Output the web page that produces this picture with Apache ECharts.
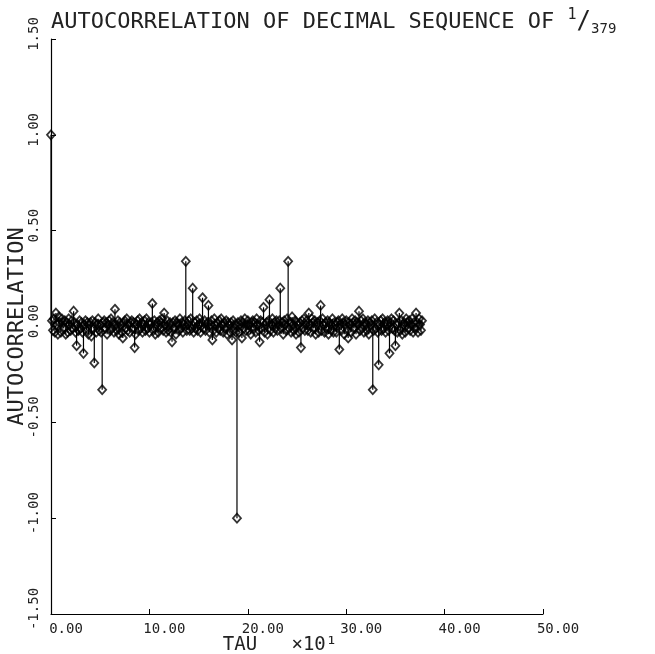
<!DOCTYPE html>
<html>
<head>
<meta charset="utf-8">
<title>Autocorrelation of decimal sequence of 1/379</title>
<script src="https://cdn.jsdelivr.net/npm/echarts@6/dist/echarts.min.js"></script>
<style>
  html, body { margin: 0; padding: 0; background: #fff; }
  #chart { width: 655px; height: 654px; }
</style>
</head>
<body>
<div id="chart"></div>
<script>
// autocorrelation at lag tau = 0, 1, 2 ... 377
const autocorr = [
  1.00, 0.03, -0.02, 0.04, -0.03, 0.07, 0.01, -0.04, 0.05, 0.02,
  -0.03, 0.04, 0.02, -0.01, 0.03, -0.04, 0.02, -0.03, 0.04, 0.01,
  -0.02, 0.03, -0.01, 0.08, 0.02, -0.03, -0.10, 0.01, -0.02, 0.03,
  -0.01, 0.02, -0.03, -0.14, 0.01, 0.03, -0.02, 0.02, -0.04, 0.01,
  0.02, -0.05, 0.03, -0.01, -0.19, 0.02, -0.03, 0.01, 0.04, -0.02,
  0.01, -0.03, -0.33, 0.02, 0.03, -0.01, 0.02, -0.04, 0.01, 0.03,
  -0.02, 0.04, -0.01, 0.02, -0.03, 0.09, 0.01, -0.02, 0.03, -0.04,
  0.02, 0.01, -0.03, -0.06, 0.02, 0.03, -0.01, 0.04, -0.02, 0.01,
  -0.03, 0.02, 0.03, -0.01, 0.02, -0.11, -0.04, 0.01, 0.03, -0.02,
  0.04, -0.01, 0.02, -0.03, 0.01, 0.03, -0.02, 0.04, -0.01, 0.02,
  -0.03, 0.01, 0.02, 0.12, -0.02, 0.03, -0.04, 0.01, 0.02, -0.03,
  0.03, -0.01, 0.02, 0.04, -0.02, 0.07, 0.01, -0.03, 0.03, -0.02,
  0.01, 0.02, -0.03, -0.08, 0.02, -0.01, 0.03, -0.04, 0.02, 0.01,
  -0.02, 0.04, -0.01, 0.02, -0.03, 0.01, 0.03, 0.34, -0.02, 0.01,
  0.03, -0.02, 0.04, -0.01, 0.20, -0.03, 0.02, -0.01, 0.03, -0.02,
  0.01, 0.04, -0.03, 0.02, 0.15, -0.01, 0.03, -0.02, 0.01, 0.02,
  0.11, -0.03, 0.01, 0.03, -0.07, -0.02, 0.04, 0.01, -0.03, 0.02,
  -0.01, 0.03, -0.02, 0.04, 0.01, -0.03, 0.02, -0.01, 0.03, -0.04,
  0.02, 0.01, -0.03, 0.02, -0.07, 0.03, -0.02, 0.01, -0.03, -1.00,
  0.02, -0.03, 0.01, 0.03, -0.06, 0.02, -0.01, 0.04, -0.02, 0.01,
  0.03, -0.02, 0.01, -0.04, 0.02, 0.03, -0.01, 0.02, -0.03, 0.04,
  0.01, -0.02, -0.08, 0.03, -0.01, 0.02, 0.10, -0.03, 0.01, 0.02,
  -0.04, 0.03, 0.14, -0.02, 0.01, 0.04, -0.03, 0.02, -0.01, 0.03,
  -0.02, 0.01, 0.03, 0.20, -0.01, 0.02, -0.04, 0.03, 0.01, -0.02,
  0.04, 0.34, -0.01, 0.02, -0.03, 0.05, 0.01, -0.02, 0.03, -0.04,
  0.02, 0.01, -0.03, 0.02, -0.11, 0.03, -0.01, 0.04, -0.02, 0.01,
  0.03, -0.02, 0.07, 0.01, -0.03, 0.04, 0.02, -0.01, 0.03, -0.04,
  0.01, 0.02, -0.03, 0.03, 0.11, -0.02, 0.04, 0.01, -0.03, 0.02,
  -0.01, 0.03, -0.04, 0.02, 0.01, -0.02, 0.04, -0.03, 0.02, 0.01,
  -0.03, 0.02, 0.03, -0.12, 0.01, -0.02, 0.04, 0.02, -0.04, 0.01,
  0.03, -0.02, -0.06, 0.02, 0.01, -0.03, 0.04, 0.02, -0.01, 0.03,
  -0.04, 0.02, 0.01, 0.08, -0.02, 0.03, -0.01, 0.04, -0.03, 0.02,
  0.01, -0.02, 0.03, -0.04, 0.02, 0.01, 0.03, -0.33, -0.02, 0.04,
  -0.01, 0.02, -0.03, -0.20, 0.01, 0.03, -0.02, 0.04, -0.01, 0.02,
  -0.03, 0.01, 0.03, -0.02, -0.14, 0.02, 0.04, -0.01, 0.03, -0.02,
  -0.10, 0.01, -0.03, 0.02, 0.07, -0.02, 0.03, -0.04, 0.01, 0.02,
  -0.03, 0.04, 0.02, -0.01, 0.03, -0.02, 0.01, 0.04, -0.03, 0.02,
  -0.01, 0.07, 0.02, -0.03, 0.04, 0.01, -0.02, 0.03
];
const xTickLabels = ["0.00", "10.00", "20.00", "30.00", "40.00", "50.00"];
const yTickLabels = ["-1.50", "-1.00", "-0.50", "0.00", "0.50", "1.00", "1.50"];

const plotFont = "DejaVu Sans Mono";
const ink = "#000";

const points = autocorr.map((v, i) => [i, v]);

const chart = echarts.init(document.getElementById("chart"));
chart.setOption({
  animation: false,
  backgroundColor: "#fff",
  title: {
    text: "{t|AUTOCORRELATION OF DECIMAL SEQUENCE OF }{n|1}{s|/}{d|379}",
    left: 46,
    top: 3,
    textStyle: {
      fontWeight: "normal",
      rich: {
        t: { fontFamily: plotFont, fontSize: 22, fontWeight: "normal", color: "#222", lineHeight: 28 },
        n: { fontFamily: plotFont, fontSize: 15, fontWeight: "normal", color: "#222", verticalAlign: "top", lineHeight: 28 },
        s: { fontFamily: plotFont, fontSize: 24, fontWeight: "normal", color: "#222", lineHeight: 28 },
        d: { fontFamily: plotFont, fontSize: 14, fontWeight: "normal", color: "#222", verticalAlign: "bottom", lineHeight: 28 }
      }
    }
  },
  grid: { left: 51, right: 112, top: 39, bottom: 40, containLabel: false, outerBoundsMode: "none" },
  xAxis: {
    type: "value",
    min: 0,
    max: 500,
    interval: 100,
    name: "TAU   ×10¹",
    nameLocation: "middle",
    nameGap: 22,
    nameMoveOverlap: false,
    nameTextStyle: { fontFamily: plotFont, fontSize: 19, color: "#222", padding: [0, 34, 0, 0] },
    axisLine: { onZero: false, lineStyle: { color: ink, width: 1.2 } },
    axisTick: { inside: true, length: 5, lineStyle: { color: ink } },
    splitLine: { show: false },
    axisLabel: {
      margin: 8,
      fontFamily: plotFont,
      fontSize: 14,
      color: "#222",
      padding: [0, 0, 0, 30],
      formatter: v => xTickLabels[Math.round(v / 100)]
    }
  },
  yAxis: {
    type: "value",
    min: -1.5,
    max: 1.5,
    interval: 0.5,
    name: "AUTOCORRELATION",
    nameLocation: "middle",
    nameRotate: 90,
    nameGap: 23,
    nameMoveOverlap: false,
    nameTextStyle: { fontFamily: plotFont, fontSize: 22, color: "#222" },
    axisLine: { onZero: false, lineStyle: { color: ink, width: 1.2 } },
    axisTick: { inside: true, length: 5, lineStyle: { color: ink } },
    splitLine: { show: false },
    axisLabel: {
      rotate: 90,
      margin: 10,
      fontFamily: plotFont,
      fontSize: 14,
      color: "#222",
      padding: [0, 0, 0, 10],
      formatter: v => yTickLabels[Math.round((v + 1.5) / 0.5)]
    }
  },
  series: [
    {
      type: "bar",
      data: points,
      barWidth: 1.2,
      silent: true,
      itemStyle: { color: ink }
    },
    {
      type: "scatter",
      data: points,
      symbol: "diamond",
      symbolSize: [8, 9],
      silent: true,
      itemStyle: { color: "rgba(0,0,0,0)", borderColor: ink, borderWidth: 1.8 }
    }
  ]
});
</script>
</body>
</html>
